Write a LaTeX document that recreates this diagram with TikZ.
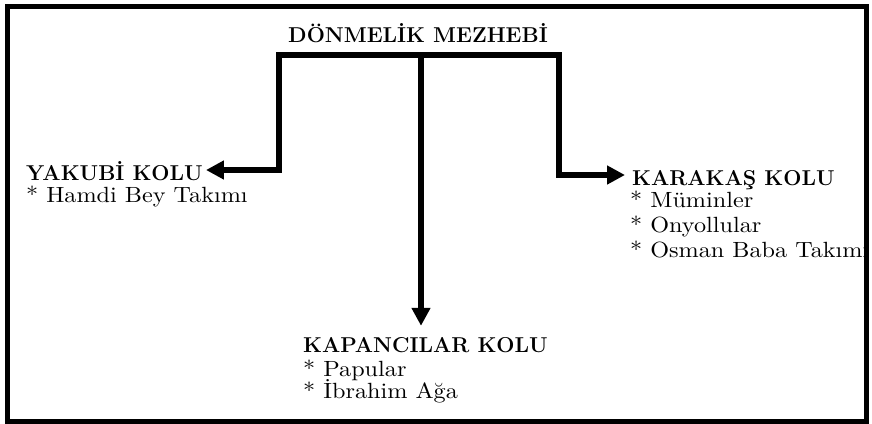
\documentclass[tikz,border=0pt]{standalone}
\usepackage{fontspec}
\newfontfamily\itemfont{lmroman10-regular.otf}[FakeStretch=1.1]
\usetikzlibrary{arrows.meta}
\begin{document}
\begin{tikzpicture}[x=1pt,y=-1pt,
  conn/.style={line width=6pt, line join=miter},
  arr/.style={conn,-{Triangle[length=18pt,width=18pt]}},
  head/.style={font=\bfseries\fontsize{21.5}{24}\selectfont, inner sep=0pt, anchor=base west, text height=14pt, text depth=0pt},
  item/.style={font=\itemfont\fontsize{22}{24}\selectfont, inner sep=0pt, anchor=base west}]
\useasboundingbox (0,0) rectangle (872,423);
\draw[line width=5pt] (7.5,6.5) rectangle (866,421);
\node[font=\bfseries\fontsize{21.5}{26}\selectfont, inner sep=0pt, anchor=base] (title) at (418,42) {DÖNMELİK MEZHEBİ};
\node[head] (yakh) at (26,180) {YAKUBİ KOLU};
\node[item] (yaki) at (26,202) {* Hamdi Bey Takımı};
\node[head] (karh) at (632,185) {KARAKAŞ KOLU};
\node[item] (kari1) at (630,207) {* Müminler};
\node[item] (kari2) at (630,232) {* Onyollular};
\node[item] (kari3) at (630,257) {* Osman Baba Takımı};
\node[head] (kaph) at (303,352) {KAPANCILAR KOLU};
\node[item] (kapi1) at (303,376) {* Papular};
\node[item] (kapi2) at (303,398) {* İbrahim Ağa};
\coordinate (bl) at (279,55);
\coordinate (br) at (559,55);
\coordinate (bm) at (421,55);
\draw[arr] (bm) -- (bl) |- ([xshift=3pt,yshift=3pt]yakh.east);
\draw[arr] (bm) -- (br) |- ([xshift=-7pt,yshift=3pt]karh.west);
\draw[arr] (bm) -- ([yshift=12pt]bm |- kaph.north);
\end{tikzpicture}
\end{document}
